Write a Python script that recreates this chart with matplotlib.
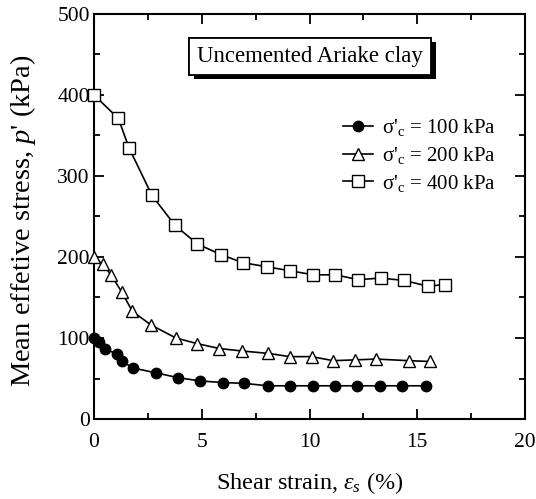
import numpy as np
import matplotlib
matplotlib.use("Agg")
import matplotlib.pyplot as plt
import matplotlib.patheffects as pe

plt.rcParams['font.family'] = ['Liberation Serif', 'DejaVu Serif']
plt.rcParams['mathtext.fontset'] = 'custom'
plt.rcParams['mathtext.rm'] = 'Liberation Serif'
plt.rcParams['mathtext.it'] = 'Liberation Serif:italic'

# data
strain_100 = [0, 0.23, 0.51, 1.05, 1.28, 1.8, 2.88, 3.9, 4.92, 6.0, 6.97, 8.06,
              9.09, 10.15, 11.18, 12.19, 13.27, 14.3, 15.4]
p_100 = [100, 95, 87, 80, 72, 63, 57, 51, 47, 45, 44, 41, 41, 41, 41, 41, 41, 41, 41]

strain_200 = [0, 0.4, 0.79, 1.28, 1.78, 2.65, 3.8, 4.8, 5.82, 6.85, 8.09, 9.09,
              10.1, 11.1, 12.1, 13.1, 14.6, 15.6]
p_200 = [200, 191, 178, 157, 133, 116, 100, 93, 87, 84, 81, 77, 77, 72, 73, 74, 72, 71]

strain_400 = [0, 1.13, 1.62, 2.69, 3.76, 4.8, 5.89, 6.9, 8.01, 9.09, 10.18, 11.2,
              12.27, 13.3, 14.4, 15.48, 16.3]
p_400 = [400, 371, 335, 276, 239, 216, 203, 193, 188, 183, 178, 178, 172, 174, 171, 164, 166]

labels = ["σ'$_\\mathrm{c}$ = 100 kPa", "σ'$_\\mathrm{c}$ = 200 kPa", "σ'$_\\mathrm{c}$ = 400 kPa"]

fig = plt.figure(figsize=(5.36, 4.99), dpi=100)
ax = fig.add_axes([0.1754, 0.1603, 0.8041, 0.8117])

ax.plot(strain_100, p_100, '-o', color='black', mfc='black', ms=7.5, lw=1.2,
        label=labels[0], clip_on=False, zorder=3)
ax.plot(strain_200, p_200, '-^', color='black', mfc='white', ms=8.5, lw=1.2,
        label=labels[1], clip_on=False, zorder=3)
ax.plot(strain_400, p_400, '-s', color='black', mfc='white', ms=8, lw=1.2,
        label=labels[2], clip_on=False, zorder=3)

ax.set_xlim(0, 20)
ax.set_ylim(0, 500)
ax.set_xticks([0, 5, 10, 15, 20])
ax.set_xticks([2.5, 7.5, 12.5, 17.5], minor=True)
ax.set_yticks([0, 100, 200, 300, 400, 500])
ax.set_yticks([50, 150, 250, 350, 450], minor=True)
ax.tick_params(which='both', direction='in', top=True, right=True, width=1.3,
               labelsize=15.5, colors='black')
ax.tick_params(which='major', length=7)
ax.tick_params(which='minor', length=4)
ax.tick_params(axis='x', pad=10)
ax.tick_params(axis='y', pad=3)
for s in ax.spines.values():
    s.set_linewidth(1.5)

ax.set_xlabel("Shear strain, $\\varepsilon_s$ (%)", fontsize=17.5, labelpad=13)
ax.set_ylabel("Mean effetive stress, $p$' (kPa)", fontsize=20.5)
ax.yaxis.set_label_coords(-0.129, 0.49)

t = ax.text(0.502, 0.896, "Uncemented Ariake clay", transform=ax.transAxes,
            ha='center', va='center', fontsize=16.5,
            bbox=dict(boxstyle='square,pad=0.35', fc='white', ec='black', lw=1.3))
t.get_bbox_patch().set_path_effects([pe.withSimplePatchShadow(offset=(3, -3), shadow_rgbFace='black', alpha=1), pe.Normal()])

ax.legend(loc='upper left', bbox_to_anchor=(0.578, 0.745), frameon=False,
          fontsize=15, handlelength=1.45, handletextpad=0.4, labelspacing=0.32,
          borderaxespad=0, borderpad=0)

fig.savefig("out.png", dpi=100)
